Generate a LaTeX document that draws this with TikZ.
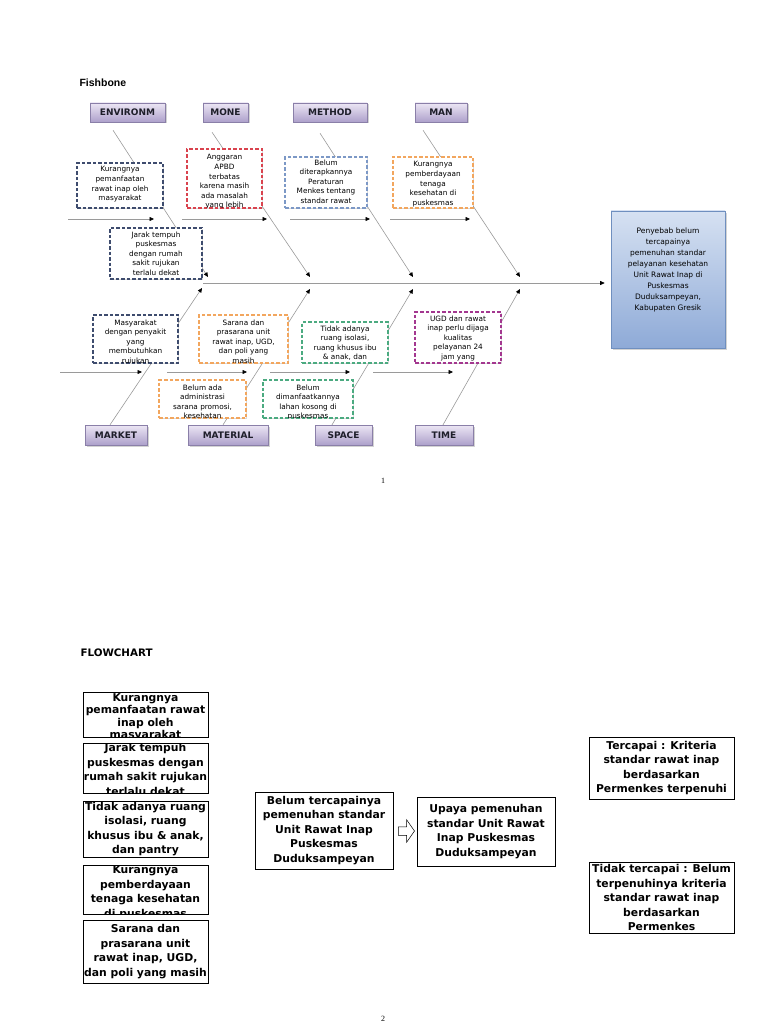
\documentclass[tikz,border=0pt]{standalone}
\usepackage{fontspec}
\setmainfont{DejaVu Sans}
\newfontfamily\arialfont{Liberation Sans}
\newfontfamily\numfont{Liberation Serif}
\usetikzlibrary{shadows,arrows.meta,shapes.arrows,calc}
\definecolor{catTop}{HTML}{ECE6F4}
\definecolor{catBot}{HTML}{ADA0CB}
\definecolor{catLine}{HTML}{8A7FA8}
\definecolor{catText}{HTML}{1E1E2A}
\definecolor{navy}{HTML}{3E4C6E}
\definecolor{redd}{HTML}{D9434E}
\definecolor{steel}{HTML}{7C98C6}
\definecolor{orng}{HTML}{F2A65E}
\definecolor{grn}{HTML}{4BAA80}
\definecolor{mag}{HTML}{A3378F}
\definecolor{boneGray}{HTML}{9A9A9A}
\definecolor{effTop}{HTML}{D6E1F2}
\definecolor{effBot}{HTML}{8EAAD7}
\definecolor{effLine}{HTML}{6F8FBF}
% #1 name, #2 box style, #3 text style, #4 x1, #5 y1, #6 x2, #7 y2, #8 text
\newcommand\clbox[8]{%
  \node[#2, minimum width={#6-#4}, minimum height={#7-#5}] (#1) at ({(#4+#6)/2},{(#5+#7)/2}) {};
  \begin{scope}
    \clip (#4+0.7,#5+0.7) rectangle (#6-0.7,#7-0.7);
    \node[#3] (#1t) at ({(#4+#6)/2},#5) {#8};
  \end{scope}}
\begin{document}
\begin{tikzpicture}[x=1pt,y=-1pt,
  cat/.style={draw=catLine, line width=0.4pt, top color=catTop, bottom color=catBot,
    drop shadow={shadow xshift=1.5pt,shadow yshift=-1.5pt,opacity=0.35},
    font=\fontsize{9}{10}\selectfont\bfseries, text=catText, inner sep=0pt},
  bone/.style={draw=boneGray, line width=0.6pt},
  tip/.style={-{Triangle[length=4.5pt,width=4pt,color=black]}},
  fb/.style={fill=white, line width=1.1pt, dash pattern=on 3.5pt off 2pt,
    drop shadow={shadow xshift=1.2pt,shadow yshift=-1.2pt,opacity=0.3}},
  tx/.style={font=\fontsize{7.3}{9.6}\selectfont, align=center, anchor=north, inner sep=0pt, text=black, yshift=-3.3pt},
  flb/.style={fill=white, draw=black, line width=0.8pt,
    drop shadow={shadow xshift=1pt,shadow yshift=-1pt,opacity=0.25}},
  ft/.style={font=\fontsize{10.8}{14.5}\selectfont\bfseries, align=center, anchor=north, inner sep=0pt, text=black},
  fc/.style={flb, font=\fontsize{10.8}{14.5}\selectfont\bfseries, align=center, inner sep=0pt},
  eff/.style={draw=effLine, line width=0.6pt, top color=effTop, bottom color=effBot,
    drop shadow={shadow xshift=2pt,shadow yshift=-2pt,opacity=0.35}},
  efft/.style={font=\fontsize{7.5}{11}\selectfont, align=center, anchor=north, inner sep=0pt, text=black, yshift=-17pt},
]
\useasboundingbox (0,0) rectangle (768,1024);

% ---------- headers ----------
\node[anchor=west, font=\arialfont\fontsize{10.5}{12}\selectfont\bfseries] (fishhead) at (76,83) {Fishbone};
\node[anchor=west, font=\fontsize{10.3}{12}\selectfont\bfseries] (flowhead) at (77,652.5) {FLOWCHART};
\node[font=\numfont\fontsize{8}{9}\selectfont] (pg1) at (383,481) {1};
\node[font=\numfont\fontsize{8}{9}\selectfont] (pg2) at (383,1019) {2};

% ---------- category boxes ----------
\node[cat, minimum width=75, minimum height=19] (env) at (127.5,112.5) {ENVIRONM};
\node[cat, minimum width=45, minimum height=19] (mone) at (225.5,112.5) {MONE};
\node[cat, minimum width=74, minimum height=19] (meth) at (330,112.5) {METHOD};
\node[cat, minimum width=52, minimum height=19] (man) at (441,112.5) {MAN};
\node[cat, minimum width=62, minimum height=20] (market) at (116,435) {MARKET};
\node[cat, minimum width=80, minimum height=20] (material) at (228,435) {MATERIAL};
\node[cat, minimum width=57, minimum height=20] (space) at (343.5,435) {SPACE};
\node[cat, minimum width=58, minimum height=20] (time) at (444,435) {TIME};

% ---------- effect ----------
\clbox{eff}{eff}{efft}{611}{211}{725}{348}{Penyebab belum\\tercapainya\\pemenuhan standar\\pelayanan kesehatan\\Unit Rawat Inap di\\Puskesmas\\Duduksampeyan,\\Kabupaten Gresik}

% ---------- spine and bones ----------
\coordinate (sp0) at (203,283);
\coordinate (sp1) at ($(eff.west |- sp0)+(-6,0)$);
\draw[bone, tip] (sp0) -- (sp1);
\coordinate (t1e) at (208,277); \coordinate (t2e) at (310,277);
\coordinate (t3e) at (413,277); \coordinate (t4e) at (520,277);
\coordinate (b1e) at (202,288); \coordinate (b2e) at (310,289);
\coordinate (b3e) at (413,289); \coordinate (b4e) at (520,289);
\draw[bone, tip] ([shift={(-14.5,8)}]env.south) -- (t1e);
\draw[bone, tip] ([shift={(-13.5,10)}]mone.south) -- (t2e);
\draw[bone, tip] ([shift={(-10,11)}]meth.south) -- (t3e);
\draw[bone, tip] ([shift={(-18,8)}]man.south) -- (t4e);
\draw[bone, tip] ([shift={(-6,0)}]market.north) -- (b1e);
\draw[bone, tip] ([shift={(-5,0)}]material.north) -- (b2e);
\draw[bone, tip] ([shift={(-11.5,0)}]space.north) -- (b3e);
\draw[bone, tip] ([shift={(-1,0)}]time.north) -- (b4e);

% sub-bones
\coordinate (h1s) at (68,219);  \coordinate (h1e) at (154,219);
\coordinate (h2s) at (182,219); \coordinate (h2e) at (267,219);
\coordinate (h3s) at (290,219); \coordinate (h3e) at (370,219);
\coordinate (h4s) at (390,219); \coordinate (h4e) at (470,219);
\coordinate (l1s) at (60,372);  \coordinate (l1e) at (142,372);
\coordinate (l2s) at (167,372); \coordinate (l2e) at (247,372);
\coordinate (l3s) at (270,372); \coordinate (l3e) at (350,372);
\coordinate (l4s) at (373,372); \coordinate (l4e) at (453,372);
\foreach \a in {h1,h2,h3,h4,l1,l2,l3,l4} {\draw[bone, tip] (\a s) -- (\a e);}

% ---------- cause boxes ----------
\clbox{c1}{fb,draw=navy}{tx}{77}{163}{163}{208}{Kurangnya\\pemanfaatan\\rawat inap oleh\\masyarakat}
\clbox{c2}{fb,draw=redd}{tx,yshift=-2pt}{187}{149}{262}{208}{Anggaran\\APBD\\terbatas\\karena masih\\ada masalah\\yang lebih}
\clbox{c3}{fb,draw=steel}{tx,yshift=1pt}{285}{157}{367}{208}{Belum\\diterapkannya\\Peraturan\\Menkes tentang\\standar rawat\\inap}
\clbox{c4}{fb,draw=orng}{tx,yshift=-1pt}{393}{157}{473}{208}{Kurangnya\\pemberdayaan\\tenaga\\kesehatan di\\puskesmas}
\clbox{c5}{fb,draw=navy}{tx}{110}{228}{202}{279}{Jarak tempuh\\puskesmas\\dengan rumah\\sakit rujukan\\terlalu dekat}
\clbox{c6}{fb,draw=navy}{tx,yshift=-1pt}{93}{315}{178}{363}{Masyarakat\\dengan penyakit\\yang\\membutuhkan\\rujukan}
\clbox{c7}{fb,draw=orng}{tx,yshift=-1pt}{199}{315}{288}{363}{Sarana dan\\prasarana unit\\rawat inap, UGD,\\dan poli yang\\masih}
\clbox{c8}{fb,draw=grn}{tx}{302}{322}{388}{363}{Tidak adanya\\ruang isolasi,\\ruang khusus ibu\\\& anak, dan}
\clbox{c9}{fb,draw=mag}{tx}{415}{312}{501}{363}{UGD dan rawat\\inap perlu dijaga\\kualitas\\pelayanan 24\\jam yang}
\clbox{c10}{fb,draw=orng}{tx,yshift=-1pt}{159}{380}{246}{418}{Belum ada\\administrasi\\sarana promosi,\\kesehatan}
\clbox{c11}{fb,draw=grn}{tx,yshift=-1pt}{263}{380}{353}{418}{Belum\\dimanfaatkannya\\lahan kosong di\\puskesmas}

% ---------- flowchart ----------
\clbox{fa}{flb}{ft,yshift=-1pt,font=\fontsize{10.8}{12.5}\selectfont\bfseries}{83}{692}{208}{737}{Kurangnya\\pemanfaatan rawat\\inap oleh\\masyarakat}
\clbox{fbx}{flb}{ft,yshift=-0.5pt}{83}{743}{208}{793}{Jarak tempuh\\puskesmas dengan\\rumah sakit rujukan\\terlalu dekat}
\node[fc, minimum width=125, minimum height=56] (fcx) at (145.5,829) {Tidak adanya ruang\\isolasi, ruang\\khusus ibu \& anak,\\dan pantry};
\clbox{fd}{flb}{ft,yshift=-0.5pt}{83}{865}{208}{914}{Kurangnya\\pemberdayaan\\tenaga kesehatan\\di puskesmas}
\node[fc, minimum width=125, minimum height=63] (fe) at (145.5,951.5) {Sarana dan\\prasarana unit\\rawat inap, UGD,\\dan poli yang masih};

\node[fc, minimum width=138, minimum height=77] (F) at (324,830.5) {Belum tercapainya\\pemenuhan standar\\Unit Rawat Inap\\Puskesmas\\Duduksampeyan};
\node[fc, minimum width=138, minimum height=69] (G) at (486,831.5) {Upaya pemenuhan\\standar Unit Rawat\\Inap Puskesmas\\Duduksampeyan};
\node[single arrow, draw=black, fill=white, line width=0.5pt, minimum height=16pt,
      single arrow head extend=7pt, single arrow tip angle=110, inner sep=4pt] (barrow)
      at ($(F.east)!0.5!(G.west)$) {};

\node[fc, minimum width=145, minimum height=62] (H) at (661.5,768) {Tercapai : Kriteria\\standar rawat inap\\berdasarkan\\Permenkes terpenuhi};
\node[fc, minimum width=145, minimum height=71] (I) at (661.5,897.5) {Tidak tercapai : Belum\\terpenuhinya kriteria\\standar rawat inap\\berdasarkan\\Permenkes};
\end{tikzpicture}
\end{document}
